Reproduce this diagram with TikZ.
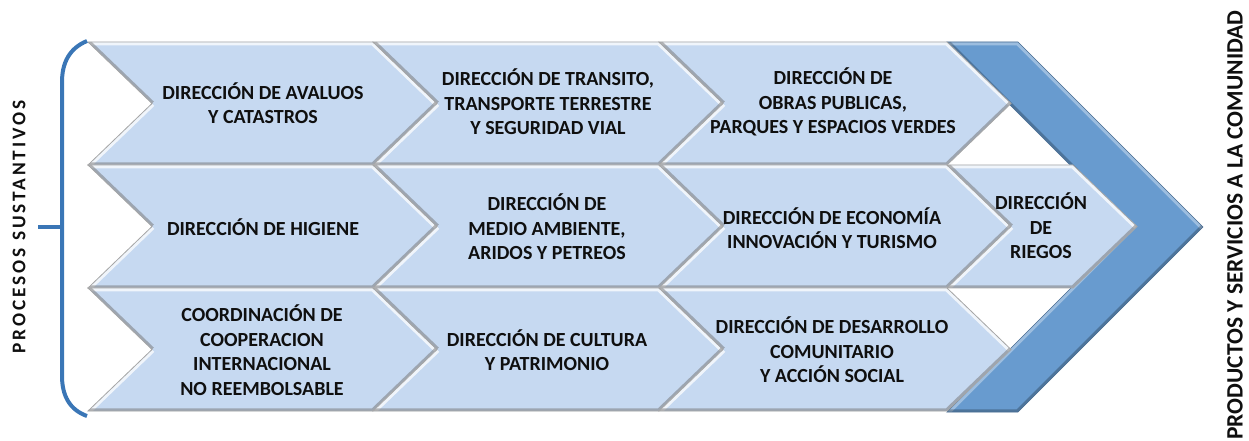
\documentclass[tikz,border=0pt]{standalone}
\usepackage{fontspec}
\setmainfont{Carlito}
\newfontfamily\spacedfont[LetterSpace=15]{Carlito}
\definecolor{chevfill}{RGB}{198,217,241}
\definecolor{bigblue}{RGB}{104,155,207}
\definecolor{brackblue}{RGB}{58,118,182}
\definecolor{txt}{RGB}{15,15,15}
\def\chd{64}
\def\chh{61.5}
\tikzset{
  bevlit/.style={draw=white,opacity=0.75,line width=5pt},
  bevdark/.style={draw=black!55,opacity=0.5,line width=4pt},
  chevedge/.style={draw=gray!70,line width=0.6pt},
  lbl/.style={align=center,text=txt,inner sep=0pt,
    font=\fontsize{15}{18.4}\selectfont\bfseries},
}
% #1 tail x, #2 top y, #3 shoulder x, #4 fill colour
\newcommand{\chevron}[4]{%
  \begin{scope}
    \path[clip] (#1,#2) -- (#3,#2) -- ({#3+\chd},{#2+\chh}) -- (#3,{#2+2*\chh})
      -- (#1,{#2+2*\chh}) -- ({#1+\chd},{#2+\chh}) -- cycle;
    \fill[#4] ({#1-5},{#2-5}) rectangle ({#3+\chd+5},{#2+2*\chh+5});
    \draw[bevlit] (#1,#2) -- (#3,#2) -- ({#3+\chd},{#2+\chh});
    \draw[bevlit] ({#1+\chd},{#2+\chh}) -- (#1,{#2+2*\chh});
    \draw[bevdark] ({#3+\chd},{#2+\chh}) -- (#3,{#2+2*\chh}) -- (#1,{#2+2*\chh});
    \draw[bevdark] (#1,#2) -- ({#1+\chd},{#2+\chh});
  \end{scope}
  \draw[chevedge] (#1,#2) -- (#3,#2) -- ({#3+\chd},{#2+\chh}) -- (#3,{#2+2*\chh})
      -- (#1,{#2+2*\chh}) -- ({#1+\chd},{#2+\chh}) -- cycle;
}
\begin{document}
\begin{tikzpicture}[x=0.75pt,y=-0.75pt]
\useasboundingbox (0,0) rectangle (1249,441);
% big blue chevron
\begin{scope}
  \path[clip] (947,42) -- (1018,42) -- (1203,227) -- (1018,412) -- (947,412) -- (1132,227) -- cycle;
  \fill[bigblue] (940,35) rectangle (1210,420);
  \draw[draw=white,opacity=0.35,line width=5pt] (947,42) -- (1018,42) -- (1203,227);
  \draw[draw=white,opacity=0.35,line width=5pt] (1132,227) -- (947,412);
  \draw[draw=black,opacity=0.25,line width=4pt] (1203,227) -- (1018,412) -- (947,412);
  \draw[draw=black,opacity=0.25,line width=4pt] (947,42) -- (1132,227);
\end{scope}
\draw[draw=bigblue!70!black,line width=0.5pt] (947,42) -- (1018,42) -- (1203,227) -- (1018,412) -- (947,412) -- (1132,227) -- cycle;
% rows of chevrons
\chevron{88}{42}{373}{chevfill}
\chevron{373}{42}{659}{chevfill}
\chevron{659}{42}{947}{chevfill}
\chevron{88}{165}{373}{chevfill}
\chevron{373}{165}{659}{chevfill}
\chevron{659}{165}{947}{chevfill}
\chevron{947}{165}{1073}{chevfill}
\chevron{88}{288}{373}{chevfill}
\chevron{373}{288}{659}{chevfill}
\chevron{659}{288}{947}{chevfill}
% labels
\node[lbl] (avaluos) at (263,103) {DIRECCIÓN DE AVALUOS\\Y CATASTROS};
\node[lbl] (transito) at (548,102) {DIRECCIÓN DE TRANSITO,\\TRANSPORTE TERRESTRE\\Y SEGURIDAD VIAL};
\node[lbl] (obras) at (833,102) {DIRECCIÓN DE\\OBRAS PUBLICAS,\\PARQUES Y ESPACIOS VERDES};
\node[lbl] (higiene) at (263,227) {DIRECCIÓN DE HIGIENE};
\node[lbl] (medio) at (547,227) {DIRECCIÓN DE\\MEDIO AMBIENTE,\\ARIDOS Y PETREOS};
\node[lbl] (economia) at (832,228) {DIRECCIÓN DE ECONOMÍA\\INNOVACIÓN Y TURISMO};
\node[lbl] (riegos) at (1041,226) {DIRECCIÓN\\DE\\RIEGOS};
\node[lbl] (coord) at (262,350) {COORDINACIÓN DE\\COOPERACION\\INTERNACIONAL\\NO REEMBOLSABLE};
\node[lbl] (cultura) at (547,350) {DIRECCIÓN DE CULTURA\\Y PATRIMONIO};
\node[lbl] (desarrollo) at (832,350) {DIRECCIÓN DE DESARROLLO\\COMUNITARIO\\Y ACCIÓN SOCIAL};
% bracket
\draw[brackblue,line width=3pt] (87,41) .. controls (70,48) and (62,62) .. (62,82) -- (62,376) .. controls (62,396) and (70,410) .. (87,416);
\coordinate (tickL) at (38,227);
\coordinate (tickR) at (62,227);
\draw[brackblue,line width=3pt] (tickL) -- (tickR);
% side texts
\node[rotate=90,text=txt,inner sep=0pt,font=\spacedfont\fontsize{14.5}{17}\selectfont\bfseries] (procesos) at (19,227) {PROCESOS SUSTANTIVOS};
\node[rotate=90,text=txt,inner sep=0pt,font=\fontsize{17.6}{20}\selectfont\bfseries] (productos) at (1235,225) {PRODUCTOS Y SERVICIOS A LA COMUNIDAD};
\end{tikzpicture}
\end{document}
